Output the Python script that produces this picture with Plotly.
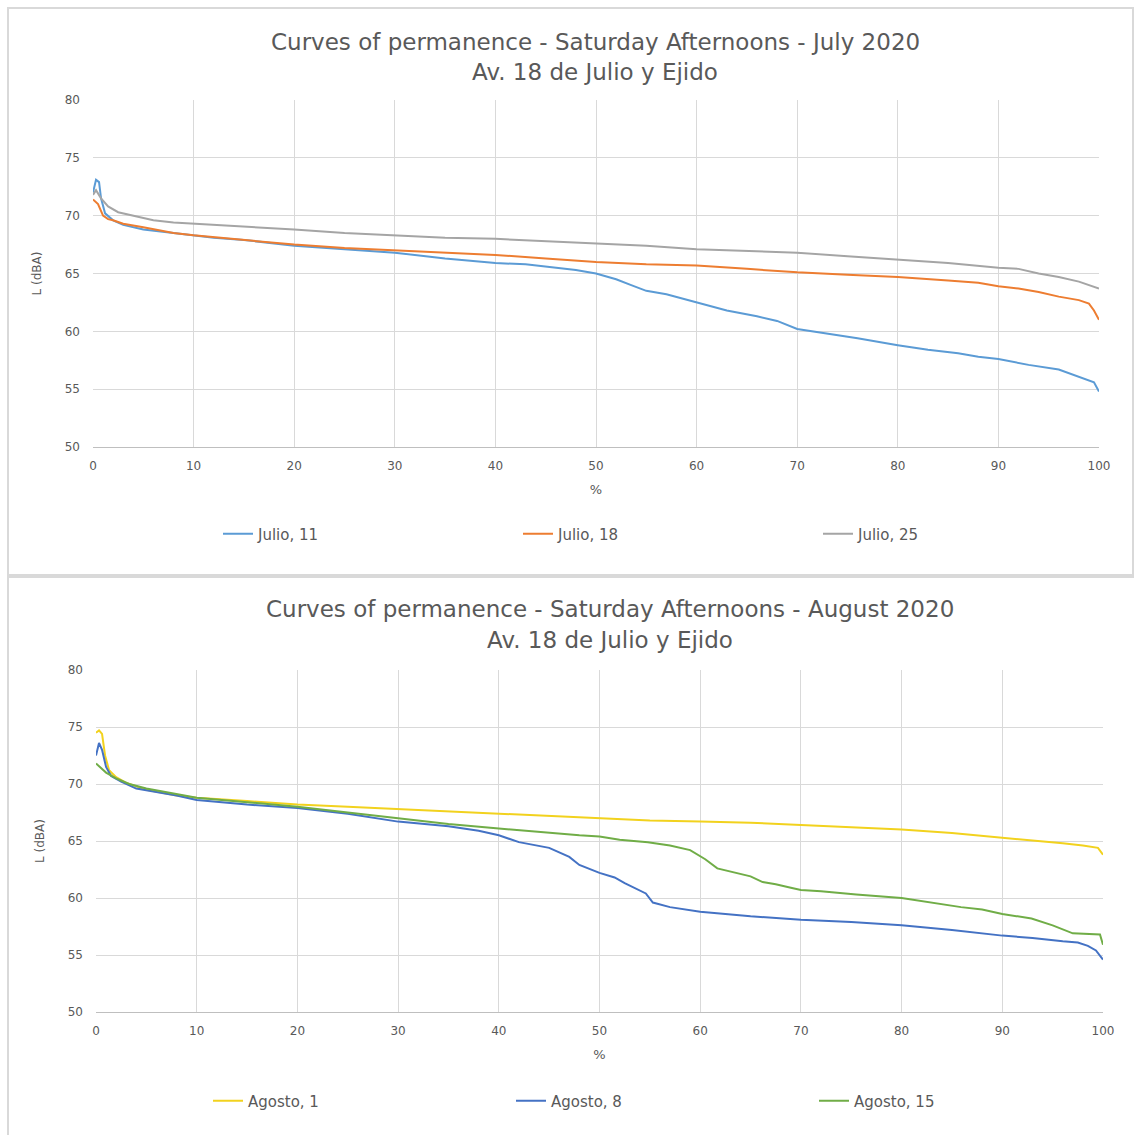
import plotly.graph_objects as go

W, H = 1134, 1135

# ---------------- Data: July 2020 ----------------
jul11_x = [0, 0.3, 0.6, 0.8, 1.2, 2, 3, 5, 8, 10, 12, 15, 20, 25, 30, 35, 40, 43, 45, 48, 50, 52, 53.5, 55, 57,
           60, 63, 66, 68, 70, 73, 76, 80, 83, 86, 88, 90, 93, 96, 97.5, 98.5, 99.5, 100]
jul11_y = [72.0, 73.1, 72.9, 71.5, 70.2, 69.6, 69.2, 68.8, 68.5, 68.3, 68.1, 67.9, 67.4, 67.1, 66.8, 66.3, 65.9,
           65.8, 65.6, 65.3, 65.0, 64.5, 64.0, 63.5, 63.2, 62.5, 61.8, 61.3, 60.9, 60.2, 59.8, 59.4, 58.8, 58.4,
           58.1, 57.8, 57.6, 57.1, 56.7, 56.2, 55.9, 55.6, 54.8]

jul18_x = [0, 0.5, 1, 1.5, 2, 3, 5, 8, 10, 15, 20, 25, 30, 35, 40, 45, 50, 55, 60, 65, 70, 75, 80, 85, 88, 90,
           92, 94, 96, 98, 99, 99.5, 100]
jul18_y = [71.4, 71.0, 70.0, 69.7, 69.6, 69.3, 69.0, 68.5, 68.3, 67.9, 67.5, 67.2, 67.0, 66.8, 66.6, 66.3, 66.0,
           65.8, 65.7, 65.4, 65.1, 64.9, 64.7, 64.4, 64.2, 63.9, 63.7, 63.4, 63.0, 62.7, 62.4, 61.8, 61.0]

jul25_x = [0, 0.3, 0.8, 1.5, 2.5, 4, 6, 8, 10, 15, 20, 25, 30, 35, 40, 45, 50, 55, 60, 65, 70, 75, 80, 85, 90,
           92, 94, 96, 98, 100]
jul25_y = [71.8, 72.2, 71.5, 70.8, 70.3, 70.0, 69.6, 69.4, 69.3, 69.1, 68.8, 68.5, 68.3, 68.1, 68.0, 67.8, 67.6,
           67.4, 67.1, 66.95, 66.8, 66.5, 66.2, 65.9, 65.5, 65.4, 65.0, 64.7, 64.3, 63.7]

# ---------------- Data: August 2020 ----------------
ago1_x = [0, 0.3, 0.6, 0.9, 1.3, 2, 3, 5, 8, 10, 15, 20, 25, 30, 35, 40, 45, 50, 55, 60, 65, 70, 75, 80, 85,
          90, 93, 96, 98, 99.5, 100]
ago1_y = [74.5, 74.7, 74.4, 72.5, 71.2, 70.6, 70.1, 69.5, 69.0, 68.8, 68.5, 68.2, 68.0, 67.8, 67.6, 67.4, 67.2,
          67.0, 66.8, 66.7, 66.6, 66.4, 66.2, 66.0, 65.7, 65.3, 65.1, 64.8, 64.6, 64.4, 63.8]

ago8_x = [0, 0.3, 0.6, 1.0, 1.5, 2.5, 4, 6, 8, 10, 15, 20, 25, 30, 35, 38, 40, 42, 45, 47, 48, 50, 51.5, 52.5,
          53.5, 54.6, 55.3, 57, 60, 65, 70, 75, 80, 85, 90, 93, 96, 97.5, 98.5, 99.3, 100]
ago8_y = [72.5, 73.6, 73.0, 71.5, 70.7, 70.2, 69.6, 69.3, 69.0, 68.6, 68.2, 67.9, 67.4, 66.7, 66.3, 65.9, 65.5,
          64.9, 64.4, 63.6, 62.9, 62.2, 61.8, 61.3, 60.9, 60.4, 59.6, 59.2, 58.8, 58.4, 58.1, 57.9, 57.6, 57.2,
          56.7, 56.5, 56.2, 56.1, 55.8, 55.4, 54.6]

ago15_x = [0, 1, 2, 3.3, 5, 8, 10, 15, 20, 25, 30, 35, 40, 45, 48, 50, 52, 54.8, 57, 59, 60.5, 61.7, 63.5, 65,
           66.2, 67.5, 69, 70, 72, 75.5, 80, 83, 85.9, 88, 90, 92.9, 95, 97, 99.7, 100]
ago15_y = [71.8, 71.0, 70.5, 70.0, 69.6, 69.1, 68.8, 68.4, 68.0, 67.5, 67.0, 66.5, 66.1, 65.7, 65.5, 65.4, 65.1,
           64.9, 64.6, 64.2, 63.4, 62.6, 62.2, 61.9, 61.4, 61.2, 60.9, 60.7, 60.6, 60.3, 60.0, 59.6, 59.2, 59.0,
           58.6, 58.2, 57.6, 56.9, 56.8, 55.9]

x_ticks = list(range(0, 101, 10))
y_ticks = list(range(50, 81, 5))

title_top_1 = "Curves of permanence - Saturday Afternoons - July 2020"
title_bot_1 = "Curves of permanence - Saturday Afternoons - August 2020"
title_2 = "Av. 18 de Julio y Ejido"

FONT = "DejaVu Sans"
TXT = "#595959"
GRID = "#D9D9D9"


def px(v):
    return v / W


def py(v):
    return 1 - v / H


fig = go.Figure()

fig.add_trace(go.Scatter(x=jul11_x, y=jul11_y, name="Julio, 11", mode="lines",
                         line=dict(color="#5B9BD5", width=2), xaxis="x", yaxis="y", legend="legend"))
fig.add_trace(go.Scatter(x=jul18_x, y=jul18_y, name="Julio, 18", mode="lines",
                         line=dict(color="#ED7D31", width=2), xaxis="x", yaxis="y", legend="legend"))
fig.add_trace(go.Scatter(x=jul25_x, y=jul25_y, name="Julio, 25", mode="lines",
                         line=dict(color="#A5A5A5", width=2), xaxis="x", yaxis="y", legend="legend"))

fig.add_trace(go.Scatter(x=ago1_x, y=ago1_y, name="Agosto, 1", mode="lines",
                         line=dict(color="#F2D21E", width=2), xaxis="x2", yaxis="y2", legend="legend2"))
fig.add_trace(go.Scatter(x=ago8_x, y=ago8_y, name="Agosto, 8", mode="lines",
                         line=dict(color="#4472C4", width=2), xaxis="x2", yaxis="y2", legend="legend2"))
fig.add_trace(go.Scatter(x=ago15_x, y=ago15_y, name="Agosto, 15", mode="lines",
                         line=dict(color="#70AD47", width=2), xaxis="x2", yaxis="y2", legend="legend2"))

axis_common = dict(showgrid=True, gridcolor=GRID, gridwidth=1, zeroline=False, automargin=False,
                   ticks="", tickfont=dict(family=FONT, size=12, color=TXT))
xcommon = dict(axis_common, showline=True, linecolor="#BFBFBF", linewidth=1, ticklabelstandoff=8,
               range=[0, 100], tickvals=x_ticks)
ycommon = dict(axis_common, showline=False, ticklabelstandoff=12, range=[50, 80], tickvals=y_ticks)

fig.update_layout(
    width=W, height=H,
    margin=dict(l=0, r=0, t=0, b=0, pad=0, autoexpand=False),
    paper_bgcolor="white", plot_bgcolor="white",
    font=dict(family=FONT, color=TXT),
    xaxis=dict(xcommon, domain=[px(93), px(1099)], anchor="y",
               title=dict(text="%", font=dict(family=FONT, size=13, color=TXT), standoff=12)),
    yaxis=dict(ycommon, domain=[py(447), py(100)], anchor="x",
               title=dict(text="L (dBA)", font=dict(family=FONT, size=12, color=TXT), standoff=20)),
    xaxis2=dict(xcommon, domain=[px(96), px(1103)], anchor="y2",
                title=dict(text="%", font=dict(family=FONT, size=13, color=TXT), standoff=12)),
    yaxis2=dict(ycommon, domain=[py(1012), py(670)], anchor="x2",
                title=dict(text="L (dBA)", font=dict(family=FONT, size=12, color=TXT), standoff=20)),
    legend=dict(orientation="h", x=px(218), xanchor="left", y=py(534), yanchor="middle",
                entrywidth=255, entrywidthmode="pixels", font=dict(family=FONT, size=15, color=TXT),
                bgcolor="rgba(0,0,0,0)"),
    legend2=dict(orientation="h", x=px(208), xanchor="left", y=py(1101), yanchor="middle",
                 entrywidth=258, entrywidthmode="pixels", font=dict(family=FONT, size=15, color=TXT),
                 bgcolor="rgba(0,0,0,0)"),
    showlegend=True,
)

for txt, xc, yc in [(title_top_1, 595, 42), (title_2, 595, 72), (title_bot_1, 610, 609), (title_2, 610, 640)]:
    fig.add_annotation(text=txt, x=px(xc), y=py(yc), xref="paper", yref="paper", showarrow=False,
                       xanchor="center", yanchor="middle", font=dict(family=FONT, size=23, color=TXT))

# chart area borders
fig.add_shape(type="rect", xref="paper", yref="paper", x0=px(8), x1=px(1133), y0=py(575), y1=py(8),
              line=dict(color="#D9D9D9", width=2), fillcolor="rgba(0,0,0,0)", layer="below")
fig.add_shape(type="rect", xref="paper", yref="paper", x0=px(8), x1=px(1140), y0=py(1145), y1=py(577),
              line=dict(color="#D9D9D9", width=2), fillcolor="rgba(0,0,0,0)", layer="below")

fig.write_html("out.html", config={"displayModeBar": False},
               post_script="document.body.style.margin='0';document.body.style.overflow='hidden';")
